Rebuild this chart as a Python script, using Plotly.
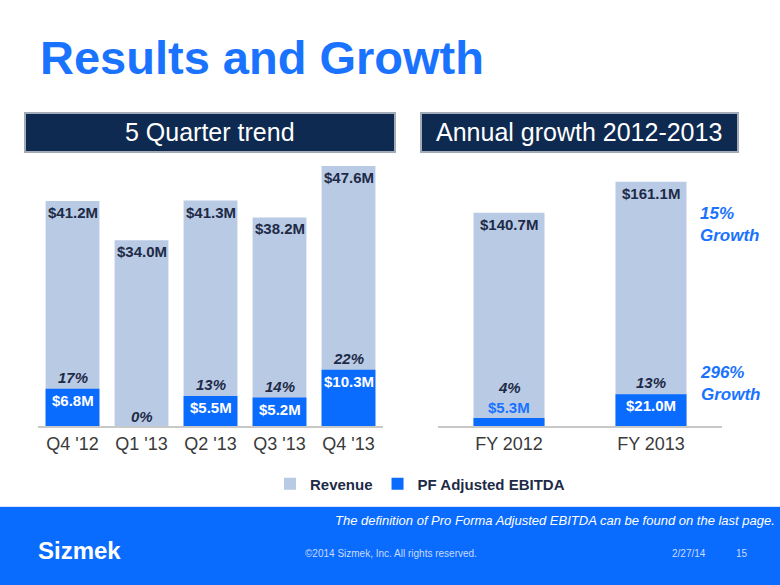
import plotly.graph_objects as go

W, H = 780, 585

# ---------------- data ----------------
quarters = ["Q4 '12", "Q1 '13", "Q2 '13", "Q3 '13", "Q4 '13"]
revenue_q = [41.2, 34.0, 41.3, 38.2, 47.6]
ebitda_q = [6.8, 0.0, 5.5, 5.2, 10.3]
margin_q = ["17%", "0%", "13%", "14%", "22%"]

years = ["FY 2012", "FY 2013"]
revenue_y = [140.7, 161.1]
ebitda_y = [5.3, 21.0]
margin_y = ["4%", "13%"]
growth_labels = ["15%<br>Growth", "296%<br>Growth"]

# ---------------- styling ----------------
FONT = "Liberation Sans, Arial, sans-serif"
REV_COLOR = "#B9CAE5"
EB_COLOR = "#0A6CFF"
DARK = "#1E2B47"
BLUE_TXT = "#1A73FF"
NAVY = "#0E2A50"


def fx(p):
    return p / W


def fy(p):
    return 1 - p / H


PLOT_TOP, PLOT_BOT = 160, 426
PLOT_H = PLOT_BOT - PLOT_TOP
R_LEFT = PLOT_H / 5.46
R_RIGHT = PLOT_H / 1.516

fig = go.Figure()

fig.add_trace(go.Bar(x=quarters, y=revenue_q, name="Revenue", marker=dict(color=REV_COLOR, line=dict(width=0)),
                     width=0.78, xaxis="x", yaxis="y", hoverinfo="skip"))
fig.add_trace(go.Bar(x=quarters, y=ebitda_q, name="PF Adjusted EBITDA", marker=dict(color=EB_COLOR, line=dict(width=0)),
                     width=0.78, xaxis="x", yaxis="y", hoverinfo="skip"))
fig.add_trace(go.Bar(x=years, y=revenue_y, name="Revenue", marker=dict(color=REV_COLOR, line=dict(width=0)),
                     width=0.5, xaxis="x2", yaxis="y2", showlegend=False, hoverinfo="skip"))
fig.add_trace(go.Bar(x=years, y=ebitda_y, name="PF Adjusted EBITDA", marker=dict(color=EB_COLOR, line=dict(width=0)),
                     width=0.5, xaxis="x2", yaxis="y2", showlegend=False, hoverinfo="skip"))

ann = []


def bar_labels(cats, revs, ebs, margins, xr, yr, rng):
    for c, r, e, m in zip(cats, revs, ebs, margins):
        ann.append(dict(x=c, y=r, xref=xr, yref=yr, text="<b>$%.1fM</b>" % r, showarrow=False,
                        yanchor="top", yshift=-1, font=dict(size=15, color=DARK, family=FONT)))
        bar_px = e / rng * PLOT_H
        if e <= 0:
            ann.append(dict(x=c, y=0, xref=xr, yref=yr, text="<b><i>%s</i></b>" % m, showarrow=False,
                            yanchor="bottom", yshift=-1, font=dict(size=15, color=DARK, family=FONT)))
        elif bar_px < 20:
            ann.append(dict(x=c, y=e, xref=xr, yref=yr, text="<b>$%.1fM</b>" % e, showarrow=False,
                            yanchor="bottom", yshift=0, font=dict(size=15, color=BLUE_TXT, family=FONT)))
            ann.append(dict(x=c, y=e, xref=xr, yref=yr, text="<b><i>%s</i></b>" % m, showarrow=False,
                            yanchor="bottom", yshift=20, font=dict(size=15, color=DARK, family=FONT)))
        else:
            ann.append(dict(x=c, y=e, xref=xr, yref=yr, text="<b>$%.1fM</b>" % e, showarrow=False,
                            yanchor="top", yshift=-1, font=dict(size=15, color="white", family=FONT)))
            ann.append(dict(x=c, y=e, xref=xr, yref=yr, text="<b><i>%s</i></b>" % m, showarrow=False,
                            yanchor="bottom", yshift=1, font=dict(size=15, color=DARK, family=FONT)))


bar_labels(quarters, revenue_q, ebitda_q, margin_q, "x", "y", R_LEFT)
bar_labels(years, revenue_y, ebitda_y, margin_y, "x2", "y2", R_RIGHT)

# growth call-outs
for ypix, g in zip([225, 383], growth_labels):
    ann.append(dict(x=fx(698), y=fy(ypix), xref="paper", yref="paper", text="<b><i>%s</i></b>" % g, showarrow=False,
                    xanchor="left", yanchor="middle", align="left",
                    font=dict(size=17, color=BLUE_TXT, family=FONT)))

# title
ann.append(dict(x=fx(38), y=fy(58), xref="paper", yref="paper", text="<b>Results and Growth</b>", showarrow=False,
                xanchor="left", yanchor="middle", font=dict(size=47, color="#1A73FF", family=FONT)))
# header boxes text
ann.append(dict(x=fx(210), y=fy(132), xref="paper", yref="paper", text="5 Quarter trend", showarrow=False,
                xanchor="center", yanchor="middle", font=dict(size=25, color="white", family=FONT)))
ann.append(dict(x=fx(579), y=fy(132), xref="paper", yref="paper", text="Annual growth 2012-2013", showarrow=False,
                xanchor="center", yanchor="middle", font=dict(size=25, color="white", family=FONT)))
# footer text
ann.append(dict(x=fx(777), y=fy(520), xref="paper", yref="paper",
                text="<i>The definition of Pro Forma Adjusted EBITDA can be found on the last page.</i>",
                showarrow=False, xanchor="right", yanchor="middle", font=dict(size=13, color="white", family=FONT)))
ann.append(dict(x=fx(36), y=fy(550), xref="paper", yref="paper", text="<b>Sizmek</b>", showarrow=False,
                xanchor="left", yanchor="middle", font=dict(size=24, color="white", family=FONT)))
ann.append(dict(x=fx(391), y=fy(553), xref="paper", yref="paper", text="©2014 Sizmek, Inc. All rights reserved.",
                showarrow=False, xanchor="center", yanchor="middle", font=dict(size=10, color="#C9DAFF", family=FONT)))
ann.append(dict(x=fx(689), y=fy(553), xref="paper", yref="paper", text="2/27/14",
                showarrow=False, xanchor="center", yanchor="middle", font=dict(size=10, color="#C9DAFF", family=FONT)))
ann.append(dict(x=fx(742), y=fy(553), xref="paper", yref="paper", text="15",
                showarrow=False, xanchor="center", yanchor="middle", font=dict(size=10, color="#C9DAFF", family=FONT)))

shapes = [
    dict(type="rect", xref="paper", yref="paper", x0=fx(25), x1=fx(395), y0=fy(152), y1=fy(113),
         fillcolor=NAVY, line=dict(color="#A3ABB6", width=2), layer="below"),
    dict(type="rect", xref="paper", yref="paper", x0=fx(421), x1=fx(738), y0=fy(152), y1=fy(113),
         fillcolor=NAVY, line=dict(color="#A3ABB6", width=2), layer="below"),
    dict(type="rect", xref="paper", yref="paper", x0=0, x1=1, y0=0, y1=fy(507),
         fillcolor="#0A6BFF", line=dict(width=0), layer="below"),
    dict(type="line", xref="paper", yref="paper", x0=0, x1=1, y0=fy(506.5), y1=fy(506.5),
         line=dict(color="#D6E4FF", width=1)),
]

axis_common = dict(type="category", showline=True, linecolor="#C8C8C8", linewidth=2, ticks="",
                   showgrid=False, zeroline=False, tickfont=dict(size=18, color="#3A3A3A", family=FONT),
                   fixedrange=True)
yaxis_common = dict(visible=False, showgrid=False, zeroline=False, fixedrange=True)

fig.update_layout(
    width=W, height=H,
    margin=dict(l=0, r=0, t=0, b=0),
    paper_bgcolor="white", plot_bgcolor="white",
    barmode="overlay",
    font=dict(family=FONT),
    xaxis=dict(domain=[fx(38), fx(383)], anchor="y", **axis_common),
    yaxis=dict(domain=[fy(PLOT_BOT), fy(PLOT_TOP)], range=[0, R_LEFT], anchor="x", **yaxis_common),
    xaxis2=dict(domain=[fx(438), fx(722)], anchor="y2", **axis_common),
    yaxis2=dict(domain=[fy(PLOT_BOT), fy(PLOT_TOP)], range=[0, R_RIGHT], anchor="x2", **yaxis_common),
    legend=dict(orientation="h", x=fx(420), xanchor="center", y=fy(484), yanchor="middle",
                font=dict(size=15, color=DARK, family=FONT, weight="bold"), bgcolor="rgba(0,0,0,0)",
                itemclick=False, itemdoubleclick=False),
    annotations=ann,
    shapes=shapes,
)

fig.write_html("out.html", config={"displayModeBar": False},
               post_script="document.body.style.margin='0';document.body.style.padding='0';")
